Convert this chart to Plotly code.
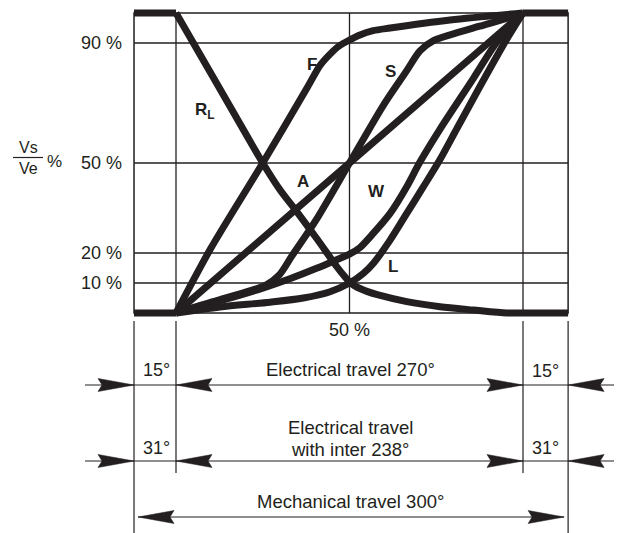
import plotly.graph_objects as go

# ---------------- data (x: % of electrical travel, y: Vs/Ve in %) ----------------
F_x = [0, 10, 25, 38, 41.5, 44.4, 47, 50, 53, 56.8, 61.7, 79, 100]
F_y = [0, 21.5, 50, 75.5, 82.5, 86.3, 89, 91, 92.7, 94.1, 95, 97.7, 100]

RL_x = [0, 12.5, 25, 30, 34.8, 40.5, 46.3, 48.5, 50, 52, 55, 58, 66.5, 76.1, 85.7, 95.3, 100]
RL_y = [100, 75, 50, 41, 33.8, 24.9, 15.5, 12.3, 10.4, 8.7, 7.2, 6.1, 3.8, 2.1, 1, 0, 0]

A_x = [0, 50, 100]
A_y = [0, 50, 100]

S_x = [0, 3, 12.5, 21, 25.8, 29.7, 33.5, 40.2, 50, 59.8, 66.5, 70.3, 74.2, 79, 87.5, 97, 100]
S_y = [0, 1.2, 4.4, 7.3, 9.2, 12.6, 19.2, 30.7, 50, 69.3, 80.8, 87.4, 90.8, 92.7, 95.6, 98.8, 100]

W_x = [0, 12.5, 25, 33, 40.5, 46, 50, 53, 56.9, 61.7, 66.5, 70.3, 76.1, 85.7, 92.4, 100]
W_y = [0, 4, 8.3, 11.5, 14.9, 17.6, 19.6, 21.8, 26.6, 33.2, 42.1, 50.3, 61.3, 78.2, 90.2, 100]

L_x = [0, 12.7, 27.1, 36.7, 44.4, 50, 54, 56.9, 61.7, 66.5, 71.3, 76, 81, 88.5, 94.3, 100]
L_y = [0, 2.0, 3.6, 5, 7.1, 10, 13.2, 16.6, 24.3, 33.2, 42.1, 51, 61.6, 77.4, 89.3, 100]

# travel outside the electrical travel (frame edges, in % of electrical travel)
EDGE_LEFT = -12.1
EDGE_RIGHT = 113.0

y_ticks = [10, 20, 50, 90]
y_tick_text = ["10 %", "20 %", "50 %", "90 %"]
x_grid = [0, 50, 100]
x_tick_text = ["50 %"]
x_tick_vals = [50]

curve_labels = ["F", "R<sub>L</sub>", "S", "A", "W", "L"]
label_x = [39.1, 8.3, 61.7, 36.7, 57.8, 62.6]
label_y = [82.7, 67.5, 80.4, 43.8, 40.4, 15.4]

# ---------------- geometry helpers (pixels of the 622x533 page) ----------------
PAGE_W, PAGE_H = 622, 533
OFF = 8                                    # default body margin of the html page
WIDTH, HEIGHT = PAGE_W - OFF, PAGE_H - OFF
PL, PR, PT, PB = 127, 575, 8, 322          # plot-area box in page px
X0PX, X100PX = 176, 523                    # electrical 0 % and 100 %
Y0PX, Y100PX = 313, 13                     # 0 % and 100 %


def px2xd(px):
    return (px - X0PX) * 100.0 / (X100PX - X0PX)


def py2yd(py):
    return (Y0PX - py) * 100.0 / (Y0PX - Y100PX)


def xd2px(x):
    return X0PX + (X100PX - X0PX) * x / 100.0


def xp(px):
    return (px - PL) / (PR - PL)


def yp(py):
    return (PB - py) / (PB - PT)


INK = "#231f20"
FONT = "Liberation Sans, Arial, Helvetica, sans-serif"
CURVE_W = 7

fig = go.Figure()

curves = [(F_x, F_y), (RL_x, RL_y), (A_x, A_y), (S_x, S_y), (W_x, W_y), (L_x, L_y)]
for cx, cy in curves:
    fig.add_trace(go.Scatter(x=cx, y=cy, mode="lines",
                             line=dict(color=INK, width=CURVE_W, shape="spline", smoothing=0.8),
                             hoverinfo="skip", showlegend=False))

# plateaus outside the electrical travel
plateaus = [([EDGE_LEFT, 0], [0, 0]), ([EDGE_LEFT, 0], [100, 100]),
            ([100, EDGE_RIGHT], [100, 100]), ([100, EDGE_RIGHT], [0, 0])]
for px_, py_ in plateaus:
    fig.add_trace(go.Scatter(x=px_, y=py_, mode="lines",
                             line=dict(color=INK, width=CURVE_W),
                             hoverinfo="skip", showlegend=False))

shapes = []
# frame
shapes.append(dict(type="rect", xref="x", yref="y", x0=EDGE_LEFT, x1=EDGE_RIGHT, y0=0, y1=100,
                   line=dict(color=INK, width=1.5), layer="below"))
# grid
for gx in x_grid:
    shapes.append(dict(type="line", xref="x", yref="y", x0=gx, x1=gx, y0=0, y1=100,
                       line=dict(color=INK, width=1.3), layer="below"))
for gy in y_ticks:
    shapes.append(dict(type="line", xref="x", yref="y", x0=EDGE_LEFT, x1=EDGE_RIGHT, y0=gy, y1=gy,
                       line=dict(color=INK, width=1.3), layer="below"))

# ---------------- dimension drawing below the chart ----------------
xL, xE0, xE1, xR = xd2px(EDGE_LEFT), xd2px(0), xd2px(100), xd2px(EDGE_RIGHT)
thin = dict(color=INK, width=1.2)


def pline(x0, y0, x1, y1):
    shapes.append(dict(type="line", xref="paper", yref="paper",
                       x0=xp(x0), y0=yp(y0), x1=xp(x1), y1=yp(y1), line=thin))


def arrowhead(tip, y, d):
    # d = +1 points right, -1 points left
    L, h, n = 36, 6.5, 32
    pts = [(tip, y), (tip - d * L, y - h), (tip - d * n, y), (tip - d * L, y + h)]
    path = "M " + " L ".join(f"{xp(a):.5f},{yp(b):.5f}" for a, b in pts) + " Z"
    shapes.append(dict(type="path", xref="paper", yref="paper", path=path,
                       fillcolor=INK, line=dict(color=INK, width=0.5)))


# extension lines
pline(xL, 321, xL, PAGE_H)
pline(xR, 321, xR, PAGE_H)
pline(xE0, 321, xE0, 473)
pline(xE1, 321, xE1, 473)

for row_y in (385, 461):
    pline(85, row_y, 615, row_y)
    arrowhead(xL, row_y, +1)
    arrowhead(xE0, row_y, -1)
    arrowhead(xE1, row_y, +1)
    arrowhead(xR, row_y, -1)

row3 = 517
pline(xL + 4, row3, xR - 4, row3)
arrowhead(xL + 4, row3, -1)
arrowhead(xR - 4, row3, +1)

annotations = []


def ptext(txt, x, y, size=18, xanchor="center"):
    annotations.append(dict(text=txt, xref="paper", yref="paper", x=xp(x), y=yp(y),
                            xanchor=xanchor, yanchor="middle", showarrow=False,
                            font=dict(family=FONT, size=size, color=INK)))


ptext("15°", 156, 370)
ptext("15°", 545, 371)
ptext("Electrical travel 270°", 350, 369, size=18.5)
ptext("31°", 156, 448)
ptext("31°", 545, 448)
ptext("Electrical travel", 350, 427, size=18.5)
ptext("with inter 238°", 350, 449, size=18.5)
ptext("Mechanical travel 300°", 350, 502, size=18.5)

# x tick label
for v, t in zip(x_tick_vals, x_tick_text):
    annotations.append(dict(text=t, xref="x", yref="paper", x=v, y=yp(330), xanchor="center",
                            yanchor="middle", showarrow=False,
                            font=dict(family=FONT, size=18, color=INK)))
# y tick labels
for v, t in zip(y_ticks, y_tick_text):
    annotations.append(dict(text=t, xref="paper", yref="y", x=xp(124), y=v, xanchor="right",
                            yanchor="middle", showarrow=False,
                            font=dict(family=FONT, size=18, color=INK)))

# y-axis title as a fraction Vs / Ve %
ptext("Vs<br>Ve", 28, 158, size=16)
ptext("%", 54, 161.5, size=17)
pline(13, 157.5, 43, 157.5)

# curve labels
for t, lx, ly in zip(curve_labels, label_x, label_y):
    annotations.append(dict(text=f"<b>{t}</b>", xref="x", yref="y", x=lx, y=ly,
                            xanchor="center", yanchor="middle", showarrow=False,
                            font=dict(family=FONT, size=17, color=INK)))

fig.update_layout(
    width=WIDTH, height=HEIGHT,
    margin=dict(l=PL - OFF, r=WIDTH - (PR - OFF), t=PT - OFF, b=HEIGHT - (PB - OFF),
                pad=0, autoexpand=False),
    paper_bgcolor="white", plot_bgcolor="white",
    showlegend=False,
    xaxis=dict(range=[px2xd(PL), px2xd(PR)], visible=False, fixedrange=True),
    yaxis=dict(range=[py2yd(PB), py2yd(PT)], visible=False, fixedrange=True),
    shapes=shapes, annotations=annotations,
)

fig.write_html("out.html")
